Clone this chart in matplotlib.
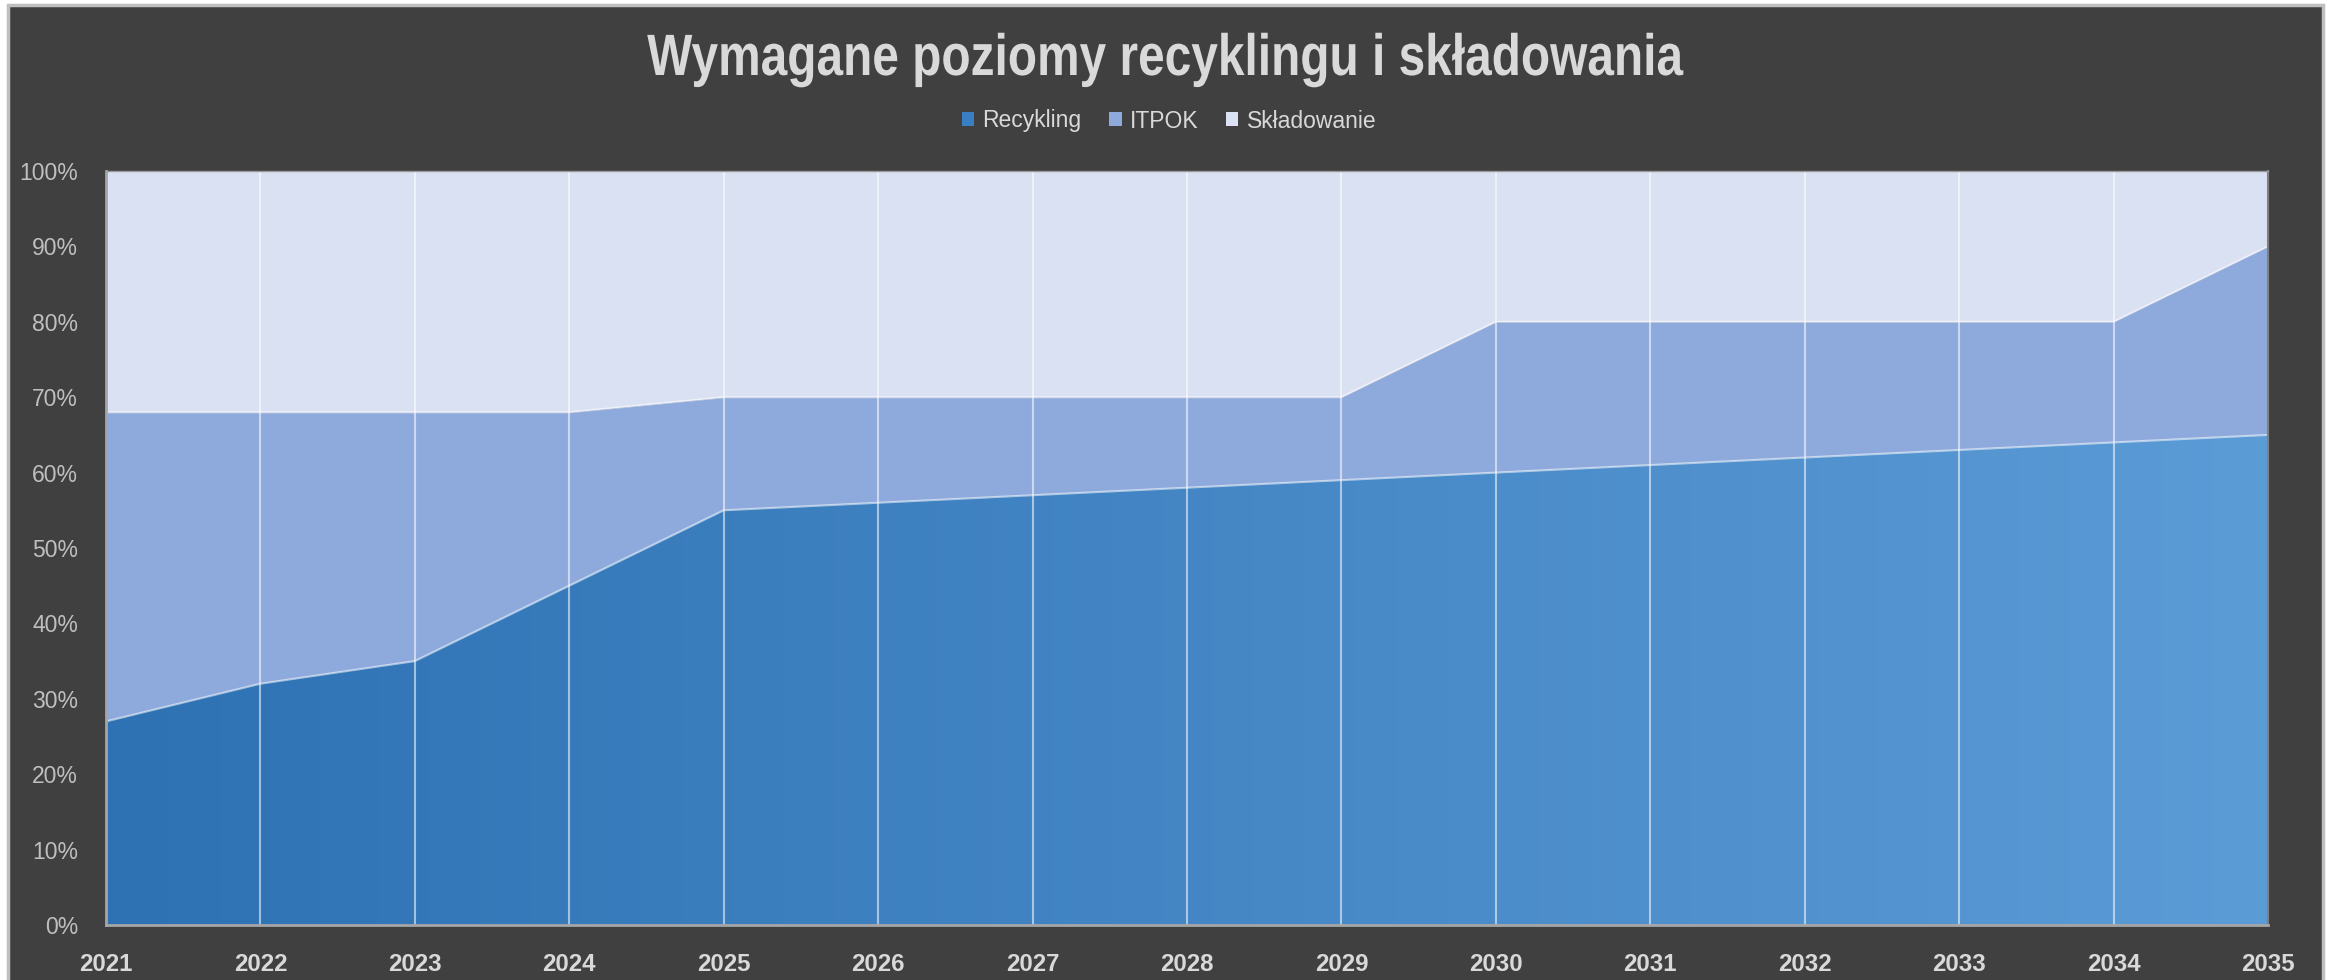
import numpy as np
import matplotlib
matplotlib.use("Agg")
import matplotlib.pyplot as plt
from matplotlib.colors import LinearSegmentedColormap
from matplotlib.patches import Rectangle, Patch
from matplotlib.patheffects import AbstractPathEffect
from matplotlib.transforms import Affine2D

# dane
years = [2021, 2022, 2023, 2024, 2025, 2026, 2027, 2028,
         2029, 2030, 2031, 2032, 2033, 2034, 2035]
recykling = [27, 32, 35, 45, 55, 56, 57, 58, 59, 60, 61, 62, 63, 64, 65]
itpok = [41, 36, 33, 23, 15, 14, 13, 12, 11, 20, 19, 18, 17, 16, 25]
skladowanie = [32, 32, 32, 32, 30, 30, 30, 30, 30, 20, 20, 20, 20, 20, 10]
labels = ["Recykling", "ITPOK", "Składowanie"]
title = "Wymagane poziomy recyklingu i składowania"

plt.rcParams['font.family'] = ['Liberation Sans', 'DejaVu Sans']

bg = '#404040'
c_rec_l, c_rec_r = '#2E72B4', '#5B9BD6'
c_itpok = '#8EAADC'
c_skl = '#DAE1F3'


class Squeeze(AbstractPathEffect):
    # zwezenie tekstu w poziomie (jak Arial Narrow)
    def __init__(self, sx, cx):
        super().__init__()
        self.sx = sx
        self.cx = cx

    def draw_path(self, renderer, gc, tpath, affine, rgbFace=None):
        a = affine + Affine2D().translate(-self.cx, 0).scale(self.sx, 1).translate(self.cx, 0)
        renderer.draw_path(gc, tpath, a, rgbFace)


fig = plt.figure(figsize=(23.36, 9.8), dpi=100, facecolor='white')
fig.patches.append(Rectangle((8 / 2336, -0.02), (2323 - 8) / 2336, 1.02 - 5 / 980,
                             transform=fig.transFigure, facecolor=bg,
                             edgecolor='#BFBFBF', linewidth=2.5, zorder=-10))

ax = fig.add_axes([106 / 2336, 1 - 925 / 980, (2268 - 106) / 2336, (925 - 171) / 980])
ax.set_facecolor(bg)

x = np.array(years)
r = np.array(recykling)
t1 = r + np.array(itpok)
t2 = t1 + np.array(skladowanie)

ax.fill_between(x, t1, t2, color=c_skl, linewidth=0, zorder=1)
ax.fill_between(x, r, t1, color=c_itpok, linewidth=0, zorder=1)
poly = ax.fill_between(x, 0, r, color=c_rec_l, linewidth=0, zorder=1)

# gradient poziomy dla recyklingu
cmap = LinearSegmentedColormap.from_list('rec', [c_rec_l, c_rec_r])
grad = np.linspace(0, 1, 256).reshape(1, -1)
im = ax.imshow(grad, extent=[years[0], years[-1], 0, 100], aspect='auto',
               cmap=cmap, zorder=2, interpolation='bilinear')
im.set_clip_path(poly.get_paths()[0], transform=ax.transData)

# krawedzie obszarow
ax.plot(x, r, color='white', alpha=0.55, lw=1.5, zorder=3)
ax.plot(x, t1, color='white', alpha=0.55, lw=1.5, zorder=3)

for yr in years[1:-1]:
    ax.axvline(yr, color='white', alpha=0.55, lw=1.5, zorder=4)

ax.set_xlim(years[0], years[-1])
ax.set_ylim(0, 100)
ax.set_xticks(years)
ax.set_xticklabels([str(y) for y in years], fontsize=17.3, fontweight='bold',
                   color='#D9D9D9')
ax.set_yticks(range(0, 101, 10))
ax.set_yticklabels([f"{v}%" for v in range(0, 101, 10)], fontsize=16.5, color='#BFBFBF')
ax.tick_params(axis='x', length=0, pad=20)
ax.tick_params(axis='y', length=0, pad=20)

for side in ['left', 'bottom']:
    ax.spines[side].set_color('#A6A6A6')
    ax.spines[side].set_linewidth(2)
ax.spines['right'].set_color('#808080')
ax.spines['right'].set_linewidth(1.5)
ax.spines['top'].set_color('#9A9A9A')
ax.spines['top'].set_linewidth(1)
ax.spines['top'].set_linestyle((0, (1, 1)))
for s in ax.spines.values():
    s.set_zorder(5)

fig.text(1166 / 2336, 1 - 75 / 980, title, ha='center', va='baseline',
         fontsize=42, fontweight='bold', color='#D9D9D9',
         path_effects=[Squeeze(0.82, 1166)])

handles = [Patch(facecolor=c, edgecolor='none') for c in ['#3A7FC4', c_itpok, c_skl]]
leg = fig.legend(handles, labels, loc='center', bbox_to_anchor=(1169 / 2336, 1 - 121 / 980),
                 ncol=3, frameon=False, fontsize=16.5, labelcolor='#D9D9D9',
                 handlelength=0.55, handleheight=0.55, handletextpad=0.35,
                 columnspacing=1.2)

fig.savefig('out.png', dpi=100, facecolor='white')
